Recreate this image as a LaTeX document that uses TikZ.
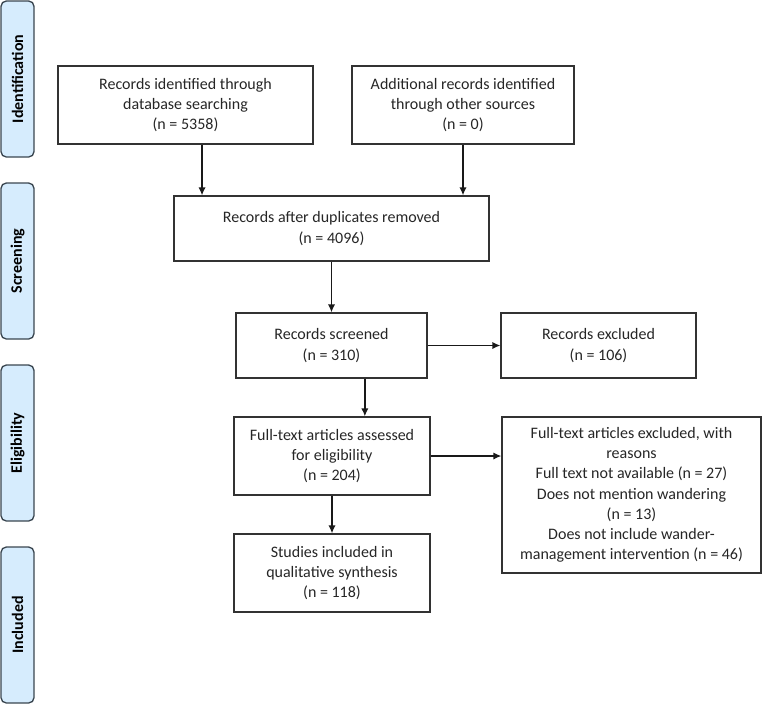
\documentclass[tikz,border=0pt]{standalone}
\usepackage{fontspec}
\setmainfont{Carlito}
\usetikzlibrary{arrows.meta}
\definecolor{phasefill}{RGB}{214,236,253}
\definecolor{phaseline}{RGB}{58,70,80}
\definecolor{boxline}{RGB}{50,50,50}
\begin{document}
\begin{tikzpicture}[x=0.75pt,y=-0.75pt,
  box/.style={draw=boxline,line width=1pt,align=center,inner sep=2pt,
    font=\fontsize{12}{15.2}\selectfont,text=black!85},
  phase/.style={draw=phaseline,fill=phasefill,line width=1pt,rounded corners=4pt,
    minimum width=24.75pt,minimum height=117pt,
    font=\fontsize{12}{14}\selectfont\bfseries,text=black},
  arr/.style={-{Latex[length=6pt,width=5.5pt]},line width=1pt,draw=black!90}]
\useasboundingbox (0,0) rectangle (762,704);
% phases on the left
\node [phase] (ident) at (17.5,79) {\rotatebox{90}{Identification}};
\node [phase] (screen) at (17.5,261) {\rotatebox{90}{Screening}};
\node [phase] (elig) at (17.5,443) {\rotatebox{90}{Eligibility}};
\node [phase] (incl) at (17.5,625) {\rotatebox{90}{Included}};
% boxes
\node [box,minimum width=191.25pt,minimum height=58.5pt] (db) at (185.5,105)
  {Records identified through\\database searching\\(n = 5358)};
\node [box,minimum width=166.5pt,minimum height=58.5pt] (other) at (463,105)
  {Additional records identified\\through other sources\\(n = 0)};
\node [box,minimum width=236.25pt,minimum height=48.75pt] (dup) at (331.5,228.5)
  {Records after duplicates removed\\(n = 4096)};
\node [box,minimum width=143.25pt,minimum height=48.75pt] (scr) at (331.5,345.5)
  {Records screened\\(n = 310)};
\node [box,minimum width=146.25pt,minimum height=48.75pt] (excl) at (598.5,345.5)
  {Records excluded\\(n = 106)};
\node [box,minimum width=147pt,minimum height=58.5pt] (full) at (332,456)
  {Full-text articles assessed\\for eligibility\\(n = 204)};
\node [box,minimum width=194.25pt,minimum height=117pt] (ftexcl) at (631.5,495)
  {Full-text articles excluded, with\\reasons\\Full text not available (n = 27)\\Does not mention wandering\\(n = 13)\\Does not include wander-\\management intervention (n = 46)};
\node [box,minimum width=147pt,minimum height=58.5pt] (study) at (332,573)
  {Studies included in\\qualitative synthesis\\(n = 118)};
% arrows
\draw [arr] ([xshift=12.4pt]db.south) -- ([xshift=12.4pt]db.south |- dup.north);
\draw [arr] (other.south) -- (other.south |- dup.north);
\draw [arr] (dup.south) -- (scr.north);
\draw [arr] (scr.east) -- (excl.west);
\draw [arr] ([xshift=25pt]scr.south) -- ([xshift=25pt]scr.south |- full.north);
\draw [arr] (full.east) -- (full.east -| ftexcl.west);
\draw [arr] (full.south) -- (study.north);
\end{tikzpicture}
\end{document}
